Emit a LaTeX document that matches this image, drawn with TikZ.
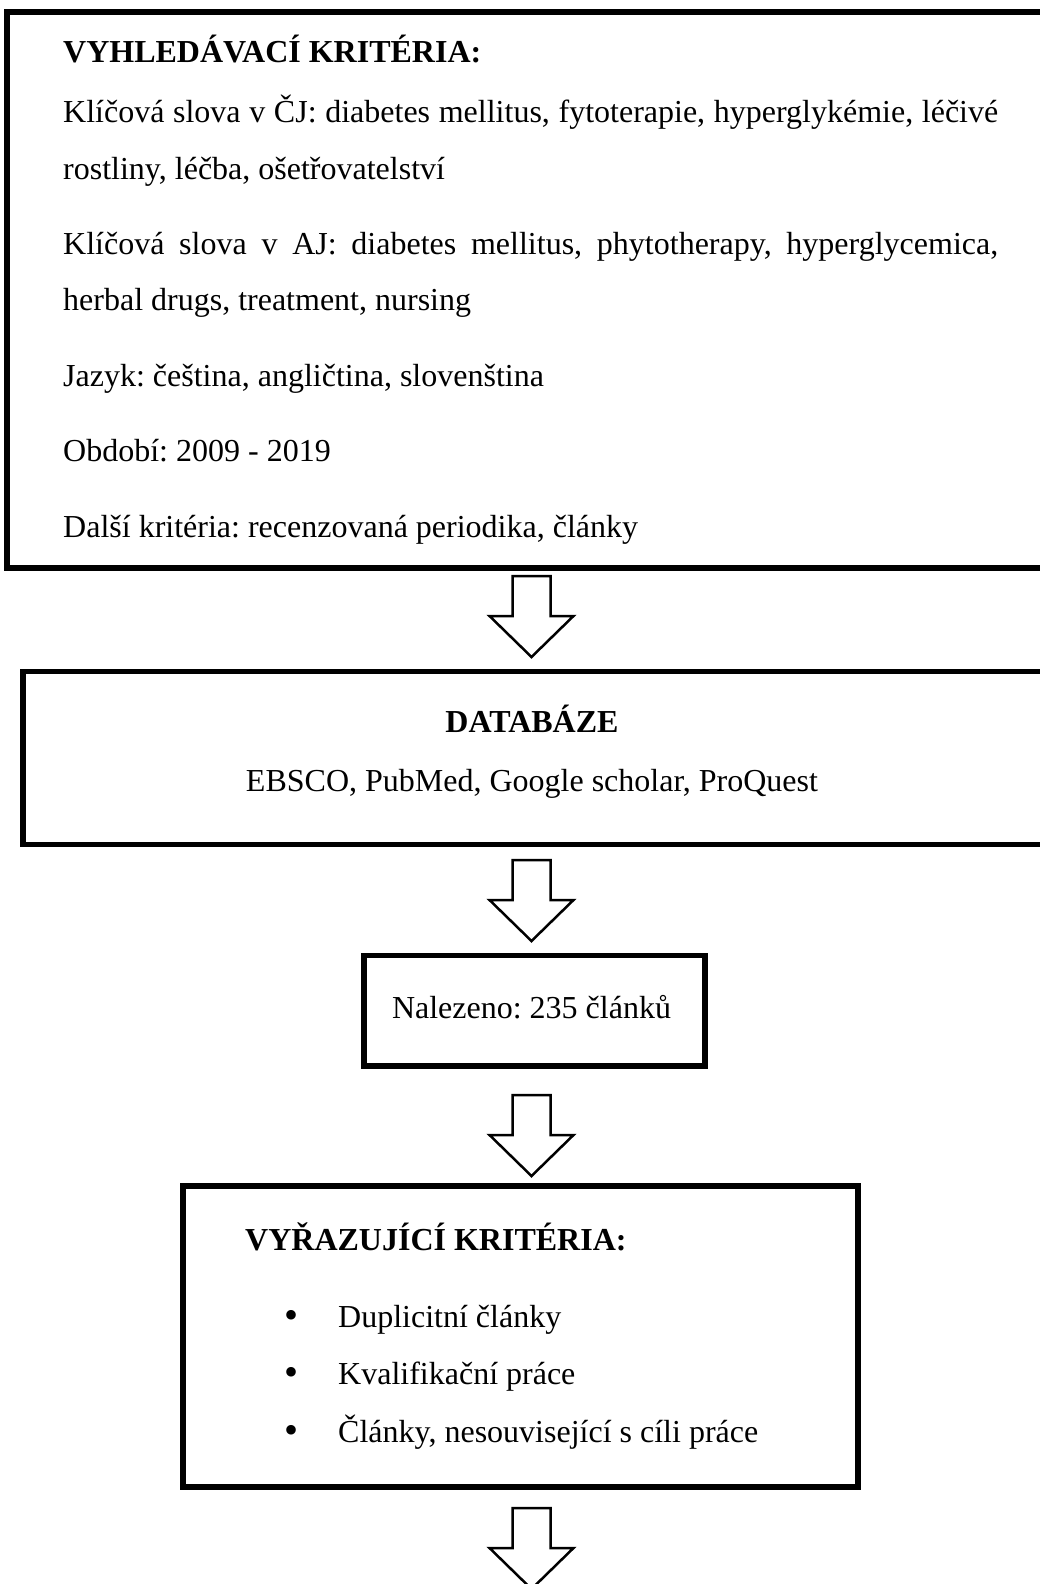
\documentclass[tikz,border=0pt]{standalone}
\usepackage{fontspec}
\setmainfont{Liberation Serif}
\usetikzlibrary{calc}

\tikzset{
  ramec/.style={draw, line width=5.5pt, inner sep=0pt, outer sep=0pt},
  radek/.style={anchor=base west, inner sep=0pt, font=\fontsize{32}{38}\selectfont\frenchspacing},
  stred/.style={anchor=base, inner sep=0pt, font=\fontsize{32}{38}\selectfont\frenchspacing},
  tucne/.style={font=\fontsize{32}{38}\selectfont\frenchspacing\bfseries},
  odrazka/.style={anchor=center, inner sep=0pt, font=\fontsize{40}{40}\selectfont},
  obrys/.style={draw, fill=white, line width=2.5pt, line join=miter},
}

% hollow block arrow pointing down, #1 = middle of its top edge
\newcommand{\sipka}[1]{%
  \draw[obrys] let \p1=(#1) in
    (\x1-19pt,\y1) -- (\x1+19pt,\y1) -- (\x1+19pt,\y1-40pt) -- (\x1+42pt,\y1-40pt)
    -- (\x1,\y1-81pt) -- (\x1-42pt,\y1-40pt) -- (\x1-19pt,\y1-40pt) -- cycle;}

\begin{document}
\begin{tikzpicture}[x=1pt, y=1pt]
    \useasboundingbox (0,0) rectangle (1039,-1584);
    \coordinate (osa) at (531.5,0);

    % Search criteria
    \node[ramec, minimum width=1039pt, minimum height=556pt] (kriteria) at (526.5,-290) {};
    \node[radek, tucne] (nadpis1) at (63,-62.5) {VYHLEDÁVACÍ KRITÉRIA:};
    \node[radek] (cj1) at (63,-123) {\makebox[935pt][s]{Klíčová slova v ČJ: diabetes mellitus, fytoterapie, hyperglykémie, léčivé}};
    \node[radek] (cj2) at (63,-179) {rostliny, léčba, ošetřovatelství};
    \node[radek] (aj1) at (63,-254) {\makebox[935pt][s]{Klíčová slova v AJ: diabetes mellitus, phytotherapy, hyperglycemica,}};
    \node[radek] (aj2) at (63,-310) {herbal drugs, treatment, nursing};
    \node[radek] (jazyk) at (63,-386) {Jazyk: čeština, angličtina, slovenština};
    \node[radek] (obdobi) at (63,-461) {Období: 2009 - 2019};
    \node[radek] (dalsi) at (63,-537) {Další kritéria: recenzovaná periodika, články};

    % Databases
    \node[ramec, minimum width=1023pt, minimum height=173pt] (databaze) at (534.5,-758) {};
    \node[stred, tucne] (nadpis2) at (532,-732) {DATABÁZE};
    \node[stred] (zdroje) at (532,-791) {EBSCO, PubMed, Google scholar, ProQuest};

    % Found
    \node[ramec, minimum width=341pt, minimum height=110.5pt] (nalezeno) at (534.5,-1010.75) {};
    \node[stred] (pocet) at (531.5,-1018) {Nalezeno: 235 článků};

    % Exclusion criteria
    \node[ramec, minimum width=675pt, minimum height=301pt] (vyrazeni) at (520.5,-1336.5) {};
    \node[radek, tucne] (nadpis4) at (245,-1250) {VYŘAZUJÍCÍ KRITÉRIA:};
    \node[odrazka] (tecka1) at (291,-1319.5) {\textbullet};
    \node[radek] (polozka1) at (338,-1327) {Duplicitní články};
    \node[odrazka] (tecka2) at (291,-1376.5) {\textbullet};
    \node[radek] (polozka2) at (338,-1384) {Kvalifikační práce};
    \node[odrazka] (tecka3) at (291,-1434.5) {\textbullet};
    \node[radek] (polozka3) at (338,-1442) {Články, nesouvisející s cíli práce};

    % Arrows
    \sipka{$(kriteria.south -| osa)+(0,-8)$}
    \sipka{$(databaze.south -| osa)+(0,-15.5)$}
    \sipka{$(nalezeno.south -| osa)+(0,-29)$}
    \sipka{$(vyrazeni.south -| osa)+(0,-21)$}

\end{tikzpicture}
\end{document}
